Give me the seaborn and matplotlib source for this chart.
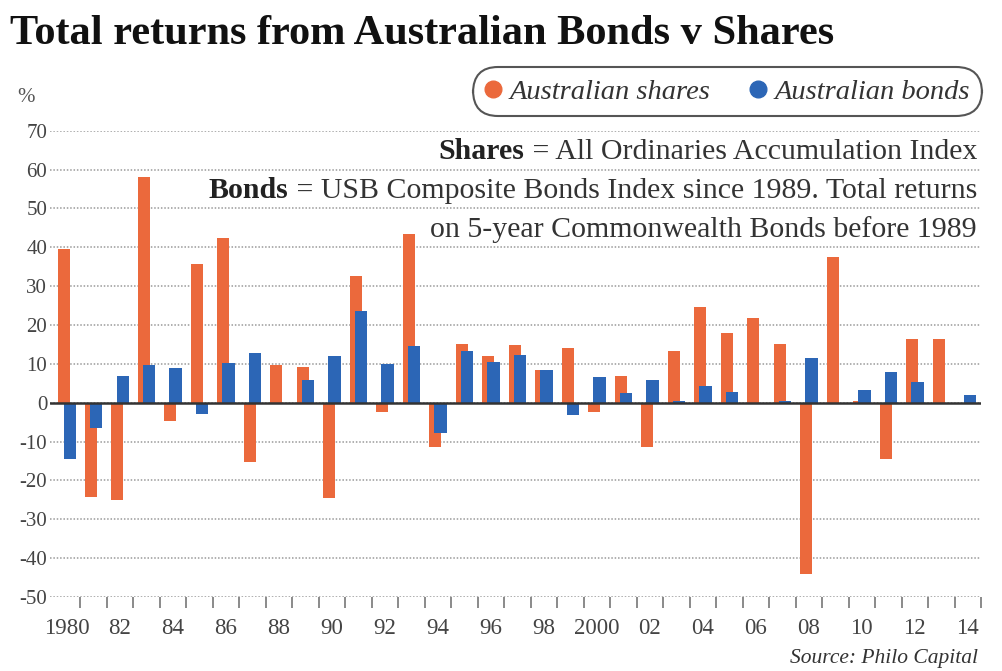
import numpy as np
import pandas as pd
import matplotlib
matplotlib.use("Agg")
import matplotlib.pyplot as plt
import seaborn as sns
from matplotlib.lines import Line2D

# ---------------- data ----------------
years = list(range(1980, 2015))
shares = [39.6, -24.3, -25.1, 58.0, -4.8, 35.7, 42.3, -15.2, 9.8, 9.1,
          -24.5, 32.6, -2.5, 43.3, -11.4, 15.0, 11.9, 14.8, 8.5, 14.1,
          -2.4, 6.8, -11.4, 13.3, 24.7, 18.0, 21.7, 15.0, -44.0, 37.4,
          0.4, -14.4, 16.5, 16.5, -0.2]
bonds = [-14.5, -6.6, 6.8, 9.8, 9.0, -2.8, 10.3, 12.7, -0.4, 5.9,
         12.1, 23.5, 10.0, 14.5, -7.7, 13.4, 10.4, 12.4, 8.4, -3.2,
         6.6, 2.5, 5.8, 0.5, 4.2, 2.8, -0.4, 0.5, 11.4, -0.4,
         3.2, 7.9, 5.4, -0.4, 1.9]
series_names = ["Australian shares", "Australian bonds"]
y_ticks = [70, 60, 50, 40, 30, 20, 10, 0, -10, -20, -30, -40, -50]
y_tick_labels = ["70", "60", "50", "40", "30", "20", "10", "0",
                 "-10", "-20", "-30", "-40", "-50"]
x_label_years = list(range(1980, 2015, 2))
x_tick_labels = ["1980", "82", "84", "86", "88", "90", "92", "94", "96", "98",
                 "2000", "02", "04", "06", "08", "10", "12", "14"]
title = "Total returns from Australian Bonds v Shares"
note_lines = [("Shares", " = All Ordinaries Accumulation Index"),
              ("Bonds", " = USB Composite Bonds Index since 1989. Total returns"),
              ("", "on 5-year Commonwealth Bonds before 1989")]
source = "Source: Philo Capital"

# ---------------- style ----------------
colors = {"Australian shares": "#EB693C", "Australian bonds": "#2C66B6"}
offsets = {"Australian shares": -0.1, "Australian bonds": 0.1}

sns.set_theme(style="white")
plt.rcParams['font.family'] = ['Liberation Serif', 'DejaVu Serif']

df = pd.DataFrame({
    "year": years * 2,
    "value": shares + bonds,
    "series": [series_names[0]] * len(years) + [series_names[1]] * len(years),
})
df["xpos"] = df["year"] + df["series"].map(offsets)

fig = plt.figure(figsize=(10.03, 6.71), dpi=100)
ax = fig.add_axes([50 / 1003, 1 - 597 / 671, 931 / 1003, (597 - 130.7) / 671])

for name in series_names:
    sub = df[df["series"] == name]
    sns.barplot(data=sub, x="xpos", y="value", native_scale=True, width=0.46,
                color=colors[name], saturation=1, errorbar=None, linewidth=0,
                ax=ax, zorder=2)

ax.axhline(0, color="#333333", lw=1.8, zorder=4)

ax.set_xlim(1979.36, 2014.5)
ax.set_ylim(-50, 70)
ax.set_yticks(y_ticks)
ax.set_yticklabels(y_tick_labels)
ax.set_xticks(x_label_years)
ax.set_xticklabels(x_tick_labels)
ax.set_xticks([y + 0.5 for y in years], minor=True)
ax.set_xlabel("")
ax.set_ylabel("")

for s in ax.spines.values():
    s.set_visible(False)

ax.set_axisbelow(True)
ax.grid(axis="y", linestyle=(0, (1, 1.2)), color="#9a9a9a", lw=1.1, zorder=0)
ax.grid(axis="x", visible=False)

ax.tick_params(axis="y", length=0, pad=2, labelsize=15, labelcolor="#444444")
ax.tick_params(axis="x", which="major", length=0, pad=15, labelsize=16.5,
               labelcolor="#444444", bottom=True)
ax.tick_params(axis="x", which="minor", length=8, width=1.2, color="#777777",
               direction="out", bottom=True)

# title
fig.text(10 / 1003, 1 - 44 / 671, title, fontsize=30.5, fontweight="bold",
         color="#111111", ha="left", va="baseline")

# percent sign
fig.text(17 / 1003, 1 - 102 / 671, "%", fontsize=15, color="#555555",
         ha="left", va="baseline")

# legend
handles = [Line2D([0], [0], marker="o", linestyle="none", markersize=12,
                  markerfacecolor=colors[n], markeredgecolor=colors[n], label=n)
           for n in series_names]
leg = fig.legend(handles=handles, loc="upper right",
                 bbox_to_anchor=(976 / 1003, 1 - 73 / 671),
                 bbox_transform=fig.transFigure, ncol=2, frameon=True,
                 prop={"family": "Liberation Serif", "style": "italic", "size": 20.5},
                 handlelength=0.6, handletextpad=0.3, columnspacing=1.35,
                 borderpad=0.2, borderaxespad=0)
frame = leg.get_frame()
frame.set_edgecolor("#555555")
frame.set_linewidth(1.5)
frame.set_facecolor("white")
frame.set_alpha(1)
frame.set_boxstyle("round", pad=0.2, rounding_size=0.9)
for t in leg.get_texts():
    t.set_color("#333333")

# notes
fig.canvas.draw()
renderer = fig.canvas.get_renderer()
baselines = [159, 198, 237]
for (bold, rest), yb in zip(note_lines, baselines):
    yf = 1 - yb / 671
    t = fig.text(977 / 1003, yf, rest, fontsize=21.5, color="#333333",
                 ha="right", va="baseline")
    if bold:
        bb = t.get_window_extent(renderer=renderer)
        fig.text(bb.x0 / fig.bbox.width, yf, bold, fontsize=21.5,
                 fontweight="bold", color="#222222", ha="right", va="baseline")

# source
fig.text(978 / 1003, 1 - 663 / 671, source, fontsize=15.5, style="italic",
         color="#333333", ha="right", va="baseline")

fig.savefig("out.png", dpi=100)
